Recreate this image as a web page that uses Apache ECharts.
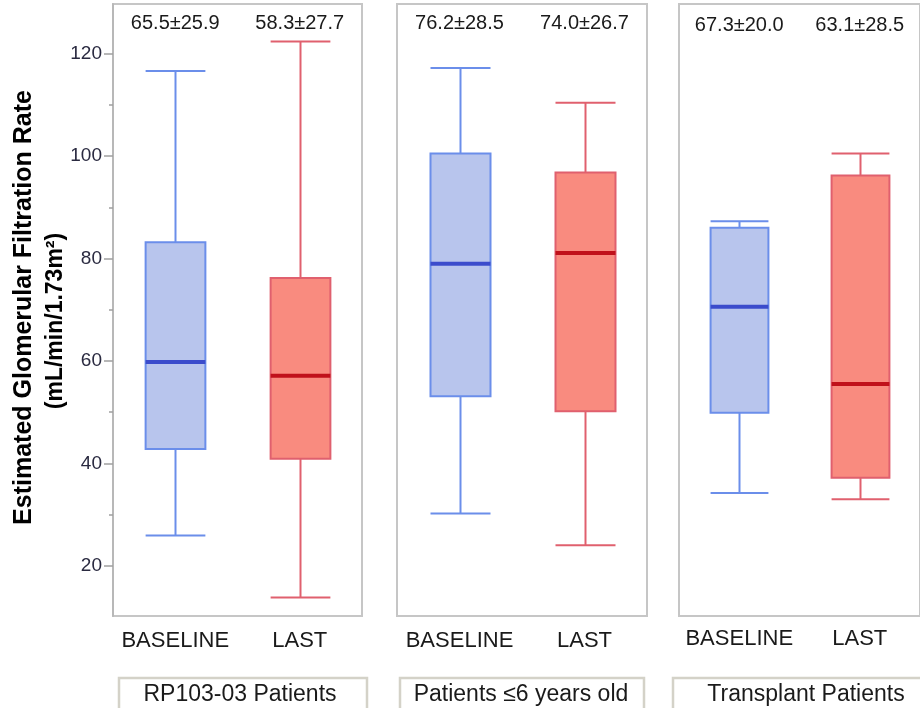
<!DOCTYPE html>
<html>
<head>
<meta charset="utf-8">
<script src="https://cdn.jsdelivr.net/npm/echarts@6/dist/echarts.min.js"></script>
<style>
  html, body { margin: 0; padding: 0; background: #ffffff; }
  #chart { width: 920px; height: 708px; }
</style>
</head>
<body>
<div id="chart"></div>
<script>
// ---- data ----
const categories = ['BASELINE', 'LAST'];
const panelNames = ['RP103-03 Patients', 'Patients \u22646 years old', 'Transplant Patients'];
// [min, Q1, median, Q3, max]
const rp10303Baseline = [25.9, 42.8, 59.8, 83.2, 116.6];
const rp10303Last = [13.8, 40.9, 57.1, 76.2, 122.4];
const under6Baseline = [30.2, 53.1, 79.0, 100.5, 117.2];
const under6Last = [24.0, 50.2, 81.1, 96.8, 110.4];
const transplantBaseline = [34.2, 49.9, 70.6, 86.0, 87.3];
const transplantLast = [33.0, 37.2, 55.5, 96.2, 100.5];
const rp10303Stats = ['65.5\u00b125.9', '58.3\u00b127.7'];
const under6Stats = ['76.2\u00b128.5', '74.0\u00b126.7'];
const transplantStats = ['67.3\u00b120.0', '63.1\u00b128.5'];
const yTickValues = [20, 40, 60, 80, 100, 120];
const yMinorTickValues = [30, 50, 70, 90, 110];
const yMin = 10.2, yMax = 129.7;

const panels = [
  { boxes: [rp10303Baseline, rp10303Last], stats: rp10303Stats },
  { boxes: [under6Baseline, under6Last], stats: under6Stats },
  { boxes: [transplantBaseline, transplantLast], stats: transplantStats }
];

// ---- styles ----
const FONT = "'Liberation Sans', Arial, sans-serif";
const styles = [
  { fill: '#b8c5ed', stroke: '#6b8eea', median: '#3b4ccc' },
  { fill: '#f98b7f', stroke: '#e0606e', median: '#c0111b' }
];
const gridLayout = [
  { left: 113, width: 249 },
  { left: 397, width: 250 },
  { left: 679, width: 250 }
];
const statOffset = [19, 19, 21];
const labelMargin = [14, 14, 12];

function makeRender(panelIdx) {
  return function (params, api) {
    const xi = api.value(0);
    const pMin = api.coord([xi, api.value(1)]);
    const pQ1 = api.coord([xi, api.value(2)]);
    const pMed = api.coord([xi, api.value(3)]);
    const pQ3 = api.coord([xi, api.value(4)]);
    const pMax = api.coord([xi, api.value(5)]);
    const bw = api.size([1, 0])[0] * 0.48;
    const cx = Math.round(pMed[0]) + 0.5;
    const h = bw / 2;
    const s = styles[xi];
    const lineStyle = { stroke: s.stroke, lineWidth: 2 };
    return {
      type: 'group',
      children: [
        { type: 'line', shape: { x1: cx, y1: pQ3[1], x2: cx, y2: pMax[1] }, style: lineStyle },
        { type: 'line', shape: { x1: cx - h, y1: pMax[1], x2: cx + h, y2: pMax[1] }, style: lineStyle },
        { type: 'line', shape: { x1: cx, y1: pQ1[1], x2: cx, y2: pMin[1] }, style: lineStyle },
        { type: 'line', shape: { x1: cx - h, y1: pMin[1], x2: cx + h, y2: pMin[1] }, style: lineStyle },
        { type: 'rect', shape: { x: cx - h, y: pQ3[1], width: bw, height: pQ1[1] - pQ3[1] },
          style: { fill: s.fill, stroke: s.stroke, lineWidth: 2 } },
        { type: 'line', shape: { x1: cx - h, y1: pMed[1], x2: cx + h, y2: pMed[1] },
          style: { stroke: s.median, lineWidth: 4 } },
        { type: 'text', x: pMed[0], y: params.coordSys.y + statOffset[panelIdx],
          style: { text: panels[panelIdx].stats[xi], fill: '#1a1a1a', font: '20px ' + FONT,
                   align: 'center', verticalAlign: 'middle' } }
      ]
    };
  };
}

const grids = [], xAxes = [], yAxes = [], series = [];
panels.forEach((p, i) => {
  grids.push({
    left: gridLayout[i].left, width: gridLayout[i].width, top: 4, height: 612,
    show: true, borderColor: '#c6c6c6', borderWidth: 2, backgroundColor: 'transparent'
  });
  xAxes.push({
    type: 'category', gridIndex: i, data: categories,
    axisLine: { show: false }, axisTick: { show: false }, splitLine: { show: false },
    axisLabel: { interval: 0, hideOverlap: false, fontSize: 22, color: '#1a1a1a', fontFamily: FONT, margin: labelMargin[i] }
  });
  const isFirst = i === 0;
  yAxes.push({
    type: 'value', gridIndex: i, min: yMin, max: yMax,
    splitLine: { show: false },
    axisLine: { show: isFirst, lineStyle: { color: '#b8b8b8', width: 2 } },
    axisTick: { show: isFirst, customValues: yTickValues, length: 9, lineStyle: { color: '#a0a0a0', width: 1.5 } },
    axisLabel: { show: isFirst, customValues: yTickValues, fontSize: 19, color: '#2a2a40', fontFamily: FONT, margin: 11 }
  });
  series.push({
    type: 'custom', xAxisIndex: i, yAxisIndex: i,
    renderItem: makeRender(i),
    encode: { x: 0, y: [1, 2, 3, 4, 5] },
    data: p.boxes.map((b, k) => [k].concat(b)),
    clip: false, silent: true
  });
});
// minor ticks on first panel
yAxes.push({
  type: 'value', gridIndex: 0, min: yMin, max: yMax, position: 'left',
  splitLine: { show: false },
  axisLine: { show: false },
  axisTick: { show: true, customValues: yMinorTickValues, length: 4, lineStyle: { color: '#a0a0a0', width: 1.5 } },
  axisLabel: { show: false }
});

// panel name boxes
const graphics = [];
const nameBoxes = [
  { x: 119, w: 248, tx: 240 }, { x: 400, w: 244, tx: 521 }, { x: 673, w: 262, tx: 806 }
];
nameBoxes.forEach((b, i) => {
  graphics.push({
    type: 'rect', shape: { x: b.x, y: 678, width: b.w, height: 40 },
    style: { fill: '#ffffff', stroke: '#d4d2c8', lineWidth: 2.5 }, silent: true
  });
  graphics.push({
    type: 'text', x: b.tx, y: 695,
    style: { text: panelNames[i], font: '23px ' + FONT, fill: '#1a1a1a', align: 'center', verticalAlign: 'middle' },
    silent: true
  });
});
// y-axis title
graphics.push({
  type: 'text', x: 24, y: 307.5, rotation: Math.PI / 2,
  style: { text: 'Estimated Glomerular Filtration Rate', font: 'bold 25px ' + FONT, fill: '#000000',
           align: 'center', verticalAlign: 'middle' }, silent: true
});
graphics.push({
  type: 'text', x: 56, y: 321, rotation: Math.PI / 2,
  style: { text: '(mL/min/1.73m\u00b2)', font: 'bold 23px ' + FONT, fill: '#000000',
           align: 'center', verticalAlign: 'middle' }, silent: true
});

const chart = echarts.init(document.getElementById('chart'), null, { renderer: 'canvas' });
chart.setOption({
  animation: false,
  backgroundColor: '#ffffff',
  grid: grids,
  xAxis: xAxes,
  yAxis: yAxes,
  series: series,
  graphic: graphics
});
</script>
</body>
</html>
